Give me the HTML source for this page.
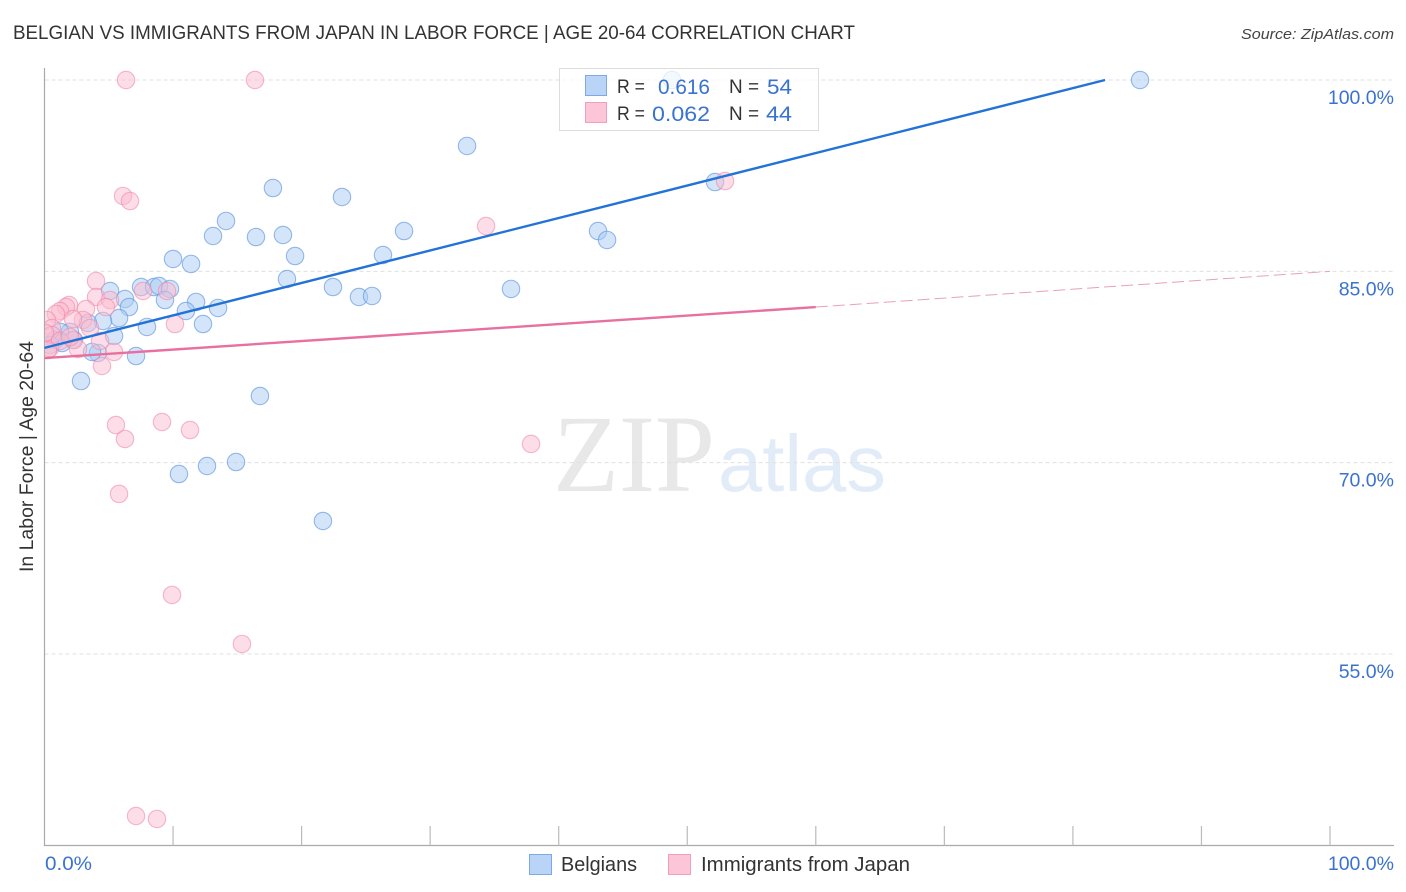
<!DOCTYPE html>
<html lang="en">
<head>
<meta charset="utf-8">
<title>Belgian vs Immigrants from Japan in Labor Force | Age 20-64 Correlation Chart</title>
<style>
html,body{margin:0;padding:0;background:#fff;width:1406px;height:892px;overflow:hidden}
svg{display:block}
text{font-family:"Liberation Sans",sans-serif}
</style>
</head>
<body>
<svg id="chart" width="1406" height="892" viewBox="0 0 1406 892" xmlns="http://www.w3.org/2000/svg">
  <defs>
    <clipPath id="plot-clip"><rect x="45" y="60" width="1349" height="786"/></clipPath>
  </defs>
  <rect x="0" y="0" width="1406" height="892" fill="#ffffff"/>
  <text x="13" y="39" font-size="19" fill="#333333" textLength="842" lengthAdjust="spacingAndGlyphs">BELGIAN VS IMMIGRANTS FROM JAPAN IN LABOR FORCE | AGE 20-64 CORRELATION CHART</text>
  <text x="1241" y="39" font-size="15" font-style="italic" fill="#444444" textLength="153" lengthAdjust="spacingAndGlyphs">Source: ZipAtlas.com</text>
  <text x="553" y="491" font-size="110" fill="#e8e8e8" textLength="162" lengthAdjust="spacingAndGlyphs" style="font-family:'Liberation Serif',serif">ZIP</text>
  <text x="718" y="491" font-size="80" fill="#e2ecf8" textLength="168" lengthAdjust="spacingAndGlyphs">atlas</text>
  <g id="grid"></g>
  <g id="axes"></g>
  <g id="pts-a" clip-path="url(#plot-clip)"></g>
  <g id="pts-b" clip-path="url(#plot-clip)"></g>
  <g id="trends"></g>
  <text transform="translate(33,572) rotate(-90)" font-size="19" fill="#333333" textLength="231" lengthAdjust="spacingAndGlyphs">In Labor Force | Age 20-64</text>

  <g>
    <rect x="559.5" y="68.5" width="259" height="62" fill="#ffffff" fill-opacity="0.75" stroke="#dddddd" stroke-width="1"/>
    <rect x="585.5" y="75.5" width="21" height="20" fill="#b9d4f7" stroke="#7fa9e4"/>
    <rect x="585.5" y="102.5" width="21" height="20" fill="#fcc6d8" stroke="#f0a0bb"/>
    <text x="617" y="93" font-size="19.5" fill="#333333" textLength="28" lengthAdjust="spacingAndGlyphs">R =</text>
    <text x="658" y="94" font-size="21" fill="#3a72d0" textLength="52" lengthAdjust="spacingAndGlyphs">0.616</text>
    <text x="729" y="93" font-size="19.5" fill="#333333" textLength="30" lengthAdjust="spacingAndGlyphs">N =</text>
    <text x="767" y="94" font-size="21" fill="#3a72d0" textLength="25" lengthAdjust="spacingAndGlyphs">54</text>
    <text x="617" y="120" font-size="19.5" fill="#333333" textLength="28" lengthAdjust="spacingAndGlyphs">R =</text>
    <text x="652" y="121" font-size="21" fill="#3a72d0" textLength="58" lengthAdjust="spacingAndGlyphs">0.062</text>
    <text x="729" y="120" font-size="19.5" fill="#333333" textLength="30" lengthAdjust="spacingAndGlyphs">N =</text>
    <text x="766" y="121" font-size="21" fill="#3a72d0" textLength="26" lengthAdjust="spacingAndGlyphs">44</text>
  </g>

  <g>
    <rect x="529.5" y="854.5" width="22" height="20" fill="#b9d4f7" stroke="#7fa9e4"/>
    <text x="561" y="871" font-size="20" fill="#333333" textLength="76" lengthAdjust="spacingAndGlyphs">Belgians</text>
    <rect x="668.5" y="854.5" width="22" height="20" fill="#fcc6d8" stroke="#f0a0bb"/>
    <text x="701" y="871" font-size="20" fill="#333333" textLength="209" lengthAdjust="spacingAndGlyphs">Immigrants from Japan</text>
  </g>
</svg>
<script>
const yTickValues = [100, 85, 70, 55];
const yTickLabels = ["100.0%", "85.0%", "70.0%", "55.0%"];
const xTickValues = [10, 20, 30, 40, 50, 60, 70, 80, 90, 100];
const xEndLabels = ["0.0%", "100.0%"];

const belgiansX = [85.22,48.81,32.87,17.77,23.14,14.12,13.11,16.45,18.55,27.97,43.06,43.76,52.16,26.33,19.49,10.0,11.4,18.86,22.44,36.29,24.46,25.48,7.51,8.52,8.91,9.76,5.1,9.37,6.26,6.57,11.79,11.0,13.5,5.8,7.97,12.33,4.55,5.41,7.12,4.16,3.7,2.84,16.76,14.9,12.64,10.46,21.66,3.38,2.29,1.98,1.21,0.82,1.36,0.43];
const belgiansY = [100,100,94.83,91.53,90.83,88.95,87.77,87.69,87.85,88.16,88.16,87.46,92.0,86.28,86.2,85.97,85.58,84.4,83.77,83.62,82.99,83.07,83.77,83.77,83.85,83.62,83.46,82.75,82.83,82.2,82.6,81.89,82.13,81.34,80.64,80.87,81.11,79.93,78.36,78.6,78.68,76.4,75.23,70.05,69.74,69.11,65.43,80.95,79.62,80.25,80.25,79.62,79.38,79.23];
const japanX = [6.34,16.37,52.94,6.11,6.65,34.35,4.01,7.66,9.53,4.01,5.1,4.78,1.91,1.67,1.21,0.89,3.23,10.15,2.99,3.54,2.22,0.19,0.58,4.32,2.22,2.61,5.41,4.47,5.56,9.14,11.32,6.26,37.85,5.8,9.92,15.36,7.12,8.75,0.43,0.58,0.04,1.21,1.98,0.27];
const japanY = [100,100,92.08,90.91,90.51,88.55,84.24,83.46,83.46,82.99,82.75,82.2,82.36,82.2,81.89,81.66,82.05,80.87,81.19,80.56,81.26,81.19,80.56,79.54,79.62,78.91,78.68,77.58,72.95,73.19,72.56,71.86,71.47,67.55,59.63,55.79,42.3,42.07,78.99,80.01,80.17,79.54,79.85,78.83];

const belgiansTrendX = [0, 82.5];
const belgiansTrendY = [79.0, 100];
const japanTrendX = [0, 60];
const japanTrendY = [78.2, 82.2];
const japanDashedX = [60, 100];
const japanDashedY = [82.2, 85];

const NS = "http://www.w3.org/2000/svg";
function xPos(v) { return 44.5 + v * 12.855; }
function yPos(v) { return 80 + (100 - v) * 12.756; }
function make(tag, attrs, parent) {
  const el = document.createElementNS(NS, tag);
  for (const k in attrs) el.setAttribute(k, attrs[k]);
  parent.appendChild(el);
  return el;
}

const grid = document.getElementById("grid");
const axes = document.getElementById("axes");

yTickValues.forEach(function (v, i) {
  const line = make("line", {x1: 44.5, x2: 1394, y1: yPos(v), y2: yPos(v), stroke: "#e0e0e0", "stroke-width": 1, "stroke-dasharray": "4 3"}, grid);
  
  
  const label = make("text", {x: 1394, y: yPos(v) + 24, "font-size": 19.5, fill: "#3a72d0", "text-anchor": "end"}, axes);
  
  
  label.textContent = yTickLabels[i];
});

const yAxis = make("line", {x1: 44.5, x2: 44.5, y1: 68, y2: 846, stroke: "#aaaaaa", "stroke-width": 1.2}, axes);


const xAxis = make("line", {x1: 44, x2: 1394, y1: 845.5, y2: 845.5, stroke: "#aaaaaa", "stroke-width": 1.2}, axes);



xTickValues.forEach(function (v) {
  const tick = make("line", {x1: xPos(v), x2: xPos(v), y1: 826, y2: 845.5, stroke: "#bbbbbb", "stroke-width": 1.2}, axes);
  
  
});

const xLeft = make("text", {x: 45, y: 870, "font-size": 19.5, fill: "#3a72d0", textLength: 47, lengthAdjust: "spacingAndGlyphs"}, axes);


xLeft.textContent = xEndLabels[0];
const xRight = make("text", {x: 1394, y: 870, "font-size": 19.5, fill: "#3a72d0", "text-anchor": "end"}, axes);


xRight.textContent = xEndLabels[1];

const ptsA = document.getElementById("pts-a");
belgiansX.forEach(function (v, i) {
  const c = make("circle", {cx: xPos(v), cy: yPos(belgiansY[i]), r: 8.7, fill: "#a9cbf3", "fill-opacity": 0.5, stroke: "#5f96de", "stroke-opacity": 0.65, "stroke-width": 1.1}, ptsA);
  
  
});

const ptsB = document.getElementById("pts-b");
japanX.forEach(function (v, i) {
  const c = make("circle", {cx: xPos(v), cy: yPos(japanY[i]), r: 8.7, fill: "#fbbcd0", "fill-opacity": 0.5, stroke: "#ee88aa", "stroke-opacity": 0.6, "stroke-width": 1.1}, ptsB);
  
  
});

const trends = document.getElementById("trends");
const t1 = make("line", {x1: xPos(belgiansTrendX[0]), y1: yPos(belgiansTrendY[0]), x2: xPos(belgiansTrendX[1]), y2: yPos(belgiansTrendY[1]), stroke: "#2272d8", "stroke-width": 2.4}, trends);


const t2 = make("line", {x1: xPos(japanTrendX[0]), y1: yPos(japanTrendY[0]), x2: xPos(japanTrendX[1]), y2: yPos(japanTrendY[1]), stroke: "#e8709f", "stroke-width": 2.4}, trends);


const t3 = make("line", {x1: xPos(japanDashedX[0]), y1: yPos(japanDashedY[0]), x2: xPos(japanDashedX[1]), y2: yPos(japanDashedY[1]), stroke: "#e8a0bb", "stroke-width": 1, "stroke-dasharray": "12 5"}, trends);


</script>
</body>
</html>
